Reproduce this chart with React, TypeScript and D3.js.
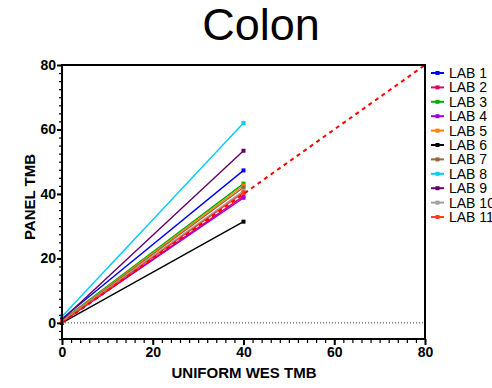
import React, { useEffect, useRef } from "react";
import * as d3 from "d3";

const labs = ["LAB 1", "LAB 2", "LAB 3", "LAB 4", "LAB 5", "LAB 6", "LAB 7", "LAB 8", "LAB 9", "LAB 10", "LAB 11"];
const colors = ["#0000ff", "#e0006a", "#00b000", "#a000e0", "#ff8000", "#000000", "#996633", "#00ccff", "#660066", "#a0a0a0", "#ff4020"];
// panel TMB at uniform WES TMB = 0 and = 40
const startVals = [1.3, 0.2, 0.8, 0.3, 0.6, 0, 0.5, 2, 1, 0.4, 0.2];
const endVals = [47.3, 39.3, 43.2, 38.8, 42.6, 31.4, 42, 62, 53.4, 41, 40.5];
const xPoints = [0, 40];
const identity = [0, 80];
const xTicks = [0, 20, 40, 60, 80];
const yTicks = [0, 20, 40, 60, 80];

export default function App() {
  const ref = useRef<SVGSVGElement>(null);

  useEffect(() => {
    const svg = d3.select(ref.current);
    svg.selectAll("*").remove();
    const left = 62, right = 425, top = 65, bottom = 339;
    const x = d3.scaleLinear().domain([0, 80]).range([left, right]);
    const y = d3.scaleLinear().domain([-5, 80]).range([bottom, top]);
    const font = "Arial, 'Liberation Sans', sans-serif";

    // title
    svg.append("text").attr("x", 261).attr("y", 40).attr("text-anchor", "middle")
      .style("font-family", font).style("font-size", "45px").text("Colon");

    // zero dotted line
    svg.append("line").attr("x1", x(0)).attr("x2", x(80)).attr("y1", y(0)).attr("y2", y(0))
      .attr("stroke", "#333").attr("stroke-width", 1).attr("stroke-dasharray", "1,2");

    // lab lines
    const line = d3.line<number>().x((d, i) => x(xPoints[i])).y(d => y(d));
    labs.forEach((lab, i) => {
      const vals = [startVals[i], endVals[i]];
      svg.append("path").datum(vals).attr("d", line).attr("fill", "none")
        .attr("stroke", colors[i]).attr("stroke-width", 1.4);
      vals.forEach((v, j) => {
        svg.append("rect").attr("x", x(xPoints[j]) - 2).attr("y", y(v) - 2)
          .attr("width", 4).attr("height", 4).attr("fill", colors[i]);
      });
    });

    // identity line
    svg.append("path").datum(identity)
      .attr("d", d3.line<number>().x(d => x(d)).y(d => y(d)))
      .attr("fill", "none").attr("stroke", "#ff0000").attr("stroke-width", 2)
      .attr("stroke-dasharray", "4,4");

    // frame top/right
    svg.append("line").attr("x1", left).attr("x2", right).attr("y1", top).attr("y2", top)
      .attr("stroke", "#000").attr("stroke-width", 2);
    svg.append("line").attr("x1", right).attr("x2", right).attr("y1", top - 1).attr("y2", bottom + 1)
      .attr("stroke", "#000").attr("stroke-width", 2);

    // y axis
    const yAxis = svg.append("g").attr("transform", `translate(${left},0)`);
    yAxis.call(d3.axisLeft(y).tickValues(d3.range(-5, 80.1, 2.5)).tickSize(3).tickFormat(() => ""));
    yAxis.selectAll(".tick line").attr("stroke-width", 1.2);
    const yMajor = svg.append("g").attr("transform", `translate(${left},0)`);
    yMajor.call(d3.axisLeft(y).tickValues(yTicks).tickSize(5).tickPadding(1));
    yMajor.selectAll(".domain").remove();
    yMajor.selectAll(".tick line").attr("stroke-width", 2);
    yMajor.selectAll("text").style("font-family", font).style("font-size", "14px").style("font-weight", "bold");
    yAxis.select(".domain").attr("stroke-width", 2).attr("d", `M0,${top - 1}V${bottom + 1}`);

    // x axis
    const xAxis = svg.append("g").attr("transform", `translate(0,${bottom})`);
    xAxis.call(d3.axisBottom(x).tickValues(d3.range(0, 80.1, 2)).tickSize(4).tickFormat(() => ""));
    xAxis.selectAll(".tick line").attr("stroke-width", 1.2);
    const xMajor = svg.append("g").attr("transform", `translate(0,${bottom})`);
    xMajor.call(d3.axisBottom(x).tickValues(xTicks).tickSize(6).tickPadding(2));
    xMajor.selectAll(".domain").remove();
    xMajor.selectAll(".tick line").attr("stroke-width", 2);
    xMajor.selectAll("text").style("font-family", font).style("font-size", "14px").style("font-weight", "bold");
    xAxis.select(".domain").attr("stroke-width", 2).attr("d", `M${left - 1},0H${right + 1}`);

    // axis titles
    svg.append("text").attr("transform", `translate(35,197) rotate(-90)`).attr("text-anchor", "middle")
      .style("font-family", font).style("font-size", "15px").style("font-weight", "bold").text("PANEL TMB");
    svg.append("text").attr("x", 244).attr("y", 378).attr("text-anchor", "middle")
      .style("font-family", font).style("font-size", "15px").style("font-weight", "bold").text("UNIFORM WES TMB");

    // legend
    const leg = svg.append("g");
    labs.forEach((lab, i) => {
      const yy = 73 + i * 14.4;
      leg.append("line").attr("x1", 431).attr("x2", 444).attr("y1", yy).attr("y2", yy)
        .attr("stroke", colors[i]).attr("stroke-width", 2);
      leg.append("rect").attr("x", 435.5).attr("y", yy - 2).attr("width", 4).attr("height", 4).attr("fill", colors[i]);
      leg.append("text").attr("x", 449).attr("y", yy + 5).style("font-family", font)
        .style("font-size", "14px").text(lab);
    });
  }, []);

  return <svg ref={ref} width={492} height={388} style={{ position: "absolute", left: 0, top: 0 }} />;
}
